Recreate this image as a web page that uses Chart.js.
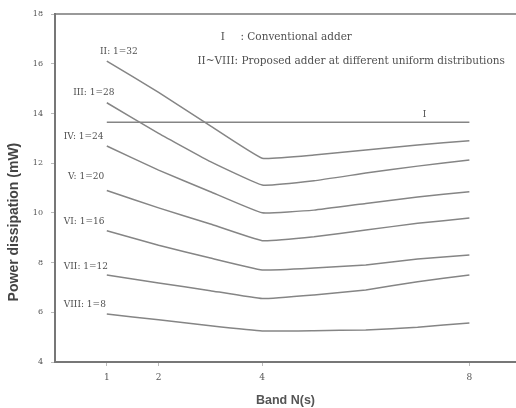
<!DOCTYPE html>
<html>
<head>
<meta charset="utf-8">
<script src="https://cdn.jsdelivr.net/npm/chart.js@4"></script>
<style>
  html, body { margin: 0; padding: 0; background: #fff; }
  #wrap { width: 516px; height: 408px; }
</style>
</head>
<body>
<div id="wrap"><canvas id="myChart" width="516" height="408"></canvas></div>
<script>
// band sizes on the x axis
const bandN = [1, 2, 3, 4, 5, 6, 7, 8];
const xTicks = [1, 2, 4, 8];

// power dissipation (mW)
const curveI    = [13.65, 13.65, 13.65, 13.65, 13.65, 13.65, 13.65, 13.65];
const curveII   = [16.1, 14.85, 13.5, 12.2, 12.33, 12.53, 12.73, 12.9];
const curveIII  = [14.43, 13.2, 12.06, 11.12, 11.29, 11.6, 11.88, 12.13];
const curveIV   = [12.69, 11.72, 10.85, 10.0, 10.11, 10.38, 10.64, 10.85];
const curveV    = [10.9, 10.2, 9.55, 8.88, 9.04, 9.31, 9.58, 9.79];
const curveVI   = [9.28, 8.7, 8.18, 7.7, 7.78, 7.9, 8.14, 8.3];
const curveVII  = [7.5, 7.18, 6.87, 6.55, 6.7, 6.9, 7.23, 7.5];
const curveVIII = [5.93, 5.7, 5.46, 5.25, 5.26, 5.29, 5.4, 5.57];

// curve names written next to the lines: [text, x, y] in data units
const curveLabels = [
  ['II: 1=32', 0.87, 16.47],
  ['III: 1=28', 0.35, 14.82],
  ['IV: 1=24', 0.17, 13.05],
  ['V: 1=20', 0.25, 11.44],
  ['VI: 1=16', 0.17, 9.63],
  ['VII: 1=12', 0.17, 7.82],
  ['VIII: 1=8', 0.17, 6.29],
  ['I', 7.1, 13.95]
];
const legendLines = [
  ['I', 3.2, 17.05],
  [': Conventional adder', 3.58, 17.05],
  ['II~VIII: Proposed adder at different uniform distributions', 2.75, 16.1]
];
const yTitle = 'Power dissipation (mW)';

const seriesList = [curveI, curveII, curveIII, curveIV, curveV, curveVI, curveVII, curveVIII];

const textPlugin = {
  id: 'texts',
  afterDatasetsDraw(chart) {
    const c = chart.ctx;
    const xs = chart.scales.x, ys = chart.scales.y;
    c.save();
    c.fillStyle = '#505050';
    c.textBaseline = 'middle';
    c.textAlign = 'left';
    c.font = '9px "DejaVu Serif", serif';
    curveLabels.forEach(l => c.fillText(l[0], xs.getPixelForValue(l[1]), ys.getPixelForValue(l[2])));
    c.font = '10.5px "DejaVu Serif", serif';
    legendLines.forEach(l => c.fillText(l[0], xs.getPixelForValue(l[1]), ys.getPixelForValue(l[2])));
    // y axis title, sits a bit lower than the middle of the axis
    c.translate(14, ys.getPixelForValue(9.63));
    c.rotate(-Math.PI / 2);
    c.textAlign = 'center';
    c.fillStyle = '#444';
    c.font = 'bold 14px "Liberation Sans", sans-serif';
    c.fillText(yTitle, 0, 0);
    c.restore();
  }
};

const ctx = document.getElementById('myChart');
new Chart(ctx, {
  type: 'line',
  data: {
    datasets: seriesList.map(s => ({
      data: s.map((v, i) => ({ x: bandN[i], y: v })),
      borderColor: '#858585',
      borderWidth: 1.5,
      pointRadius: 0,
      tension: 0.1,
      fill: false
    }))
  },
  options: {
    responsive: false,
    animation: false,
    layout: { padding: { top: 14, right: 0, left: 0, bottom: 0 } },
    plugins: { legend: { display: false }, tooltip: { enabled: false } },
    scales: {
      x: {
        type: 'linear',
        min: 0,
        max: 8.9,
        afterBuildTicks: s => { s.ticks = xTicks.map(v => ({ value: v })); },
        afterFit: s => { s.height = 46; },
        grid: { display: true, drawOnChartArea: false, tickLength: 4, color: '#bbb' },
        border: { color: '#777', width: 2 },
        ticks: { color: '#555', padding: 6, font: { family: 'DejaVu Serif', size: 9 } },
        title: { display: true, text: 'Band N(s)', color: '#555', padding: { top: 0, bottom: 0 },
                 font: { family: 'Liberation Sans', size: 12.5, weight: 'bold' } }
      },
      x2: {
        type: 'linear',
        position: 'top',
        min: 0,
        max: 8.8,
        afterFit: s => { s.height = 0; },
        grid: { display: false },
        ticks: { display: false },
        border: { color: '#999', width: 2 }
      },
      y: {
        min: 4,
        max: 18,
        afterFit: s => { s.width = 55; },
        grid: { display: true, drawOnChartArea: false, tickLength: 4, color: '#bbb' },
        border: { color: '#777', width: 2 },
        ticks: { stepSize: 2, color: '#555', padding: 8, font: { family: 'DejaVu Serif', size: 8 } },
        title: { display: false }
      }
    }
  },
  plugins: [textPlugin]
});
</script>
</body>
</html>
